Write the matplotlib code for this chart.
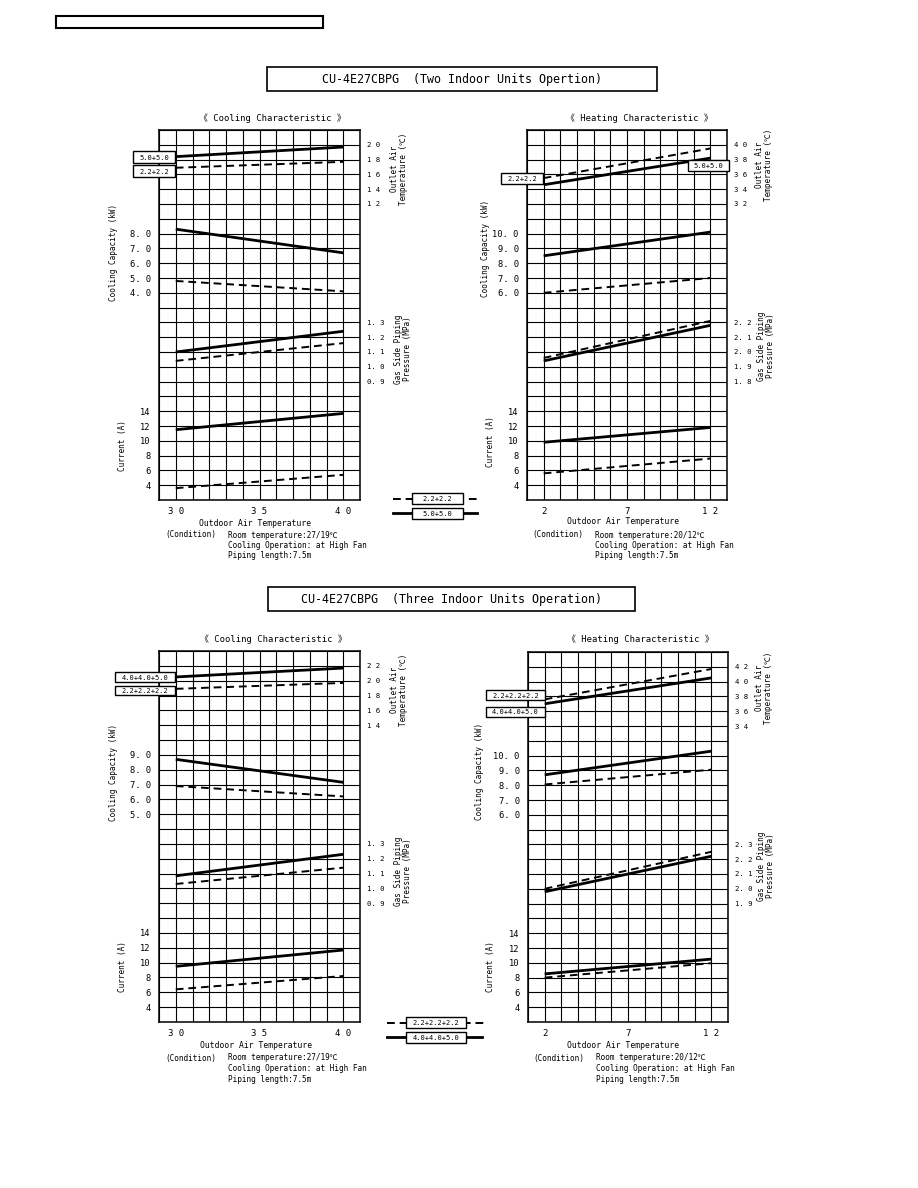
import matplotlib
matplotlib.use('Agg')
import matplotlib.pyplot as plt
from matplotlib.patches import Rectangle

plt.rcParams['font.family'] = ['DejaVu Sans Mono', 'Noto Sans CJK JP']

# ---- data ----
cool_x = [30, 40]
heat_x = [2, 12]

# two indoor units: hi = 5.0+5.0 (solid), lo = 2.2+2.2 (dashed)
two_cool_outlet_hi = [18.4, 19.7]
two_cool_outlet_lo = [16.9, 17.7]
two_cool_cap_hi = [8.3, 6.7]
two_cool_cap_lo = [4.8, 4.1]
two_cool_gas_hi = [1.10, 1.24]
two_cool_gas_lo = [1.04, 1.16]
two_cool_cur_hi = [11.5, 13.7]
two_cool_cur_lo = [3.6, 5.4]

two_heat_outlet_hi = [34.6, 38.2]
two_heat_outlet_lo = [35.5, 39.5]
two_heat_cap_hi = [8.5, 10.1]
two_heat_cap_lo = [6.0, 7.0]
two_heat_gas_hi = [1.94, 2.18]
two_heat_gas_lo = [1.96, 2.21]
two_heat_cur_hi = [9.8, 11.8]
two_heat_cur_lo = [5.6, 7.6]

# three indoor units: hi = 4.0+4.0+5.0 (solid), lo = 2.2+2.2+2.2 (dashed)
three_cool_outlet_hi = [20.5, 21.7]
three_cool_outlet_lo = [18.9, 19.7]
three_cool_cap_hi = [8.7, 7.15]
three_cool_cap_lo = [6.9, 6.2]
three_cool_gas_hi = [1.085, 1.23]
three_cool_gas_lo = [1.03, 1.14]
three_cool_cur_hi = [9.5, 11.7]
three_cool_cur_lo = [6.4, 8.2]

three_heat_outlet_hi = [37.0, 40.5]
three_heat_outlet_lo = [37.6, 41.7]
three_heat_cap_hi = [8.7, 10.3]
three_heat_cap_lo = [8.05, 9.05]
three_heat_gas_hi = [1.98, 2.22]
three_heat_gas_lo = [2.0, 2.25]
three_heat_cur_hi = [8.5, 10.5]
three_heat_cur_lo = [8.0, 9.95]

# tick values
cool_xticks = [30, 35, 40]
heat_xticks = [2, 7, 12]
current_ticks = [14, 12, 10, 8, 6, 4]
tl_outlet_ticks = [20, 18, 16, 14, 12]
tr_outlet_ticks = [40, 38, 36, 34, 32]
bl_outlet_ticks = [22, 20, 18, 16, 14]
br_outlet_ticks = [42, 40, 38, 36, 34]
tl_cap_ticks = [8.0, 7.0, 6.0, 5.0, 4.0]
tr_cap_ticks = [10.0, 9.0, 8.0, 7.0, 6.0]
bl_cap_ticks = [9.0, 8.0, 7.0, 6.0, 5.0]
br_cap_ticks = [10.0, 9.0, 8.0, 7.0, 6.0]
tl_gas_ticks = [1.3, 1.2, 1.1, 1.0, 0.9]
tr_gas_ticks = [2.2, 2.1, 2.0, 1.9, 1.8]
bl_gas_ticks = [1.3, 1.2, 1.1, 1.0, 0.9]
br_gas_ticks = [2.3, 2.2, 2.1, 2.0, 1.9]

W, H = 918, 1188
ROWS = 25
fig = plt.figure(figsize=(W / 100, H / 100), dpi=100)
fig.patch.set_facecolor('white')


def px_axes(x0, y0, x1, y1):
    return fig.add_axes([x0 / W, 1 - y1 / H, (x1 - x0) / W, (y1 - y0) / H])


def spaced(v):
    return ' '.join(str(int(v)))


def dotted(v):
    return ('%.1f' % v).replace('.', '. ')


def scale(base, ticks, top_line, step, fmt, side):
    tw = base.twinx()
    top = ticks[0]
    tw.set_ylim(top - step * (ROWS - top_line), top + step * top_line)
    tw.set_yticks(ticks)
    size = 6.3 if side == 'left' else 5.2
    tw.set_yticklabels([fmt(v) for v in ticks], fontsize=size)
    if side == 'left':
        tw.yaxis.tick_left()
        tw.tick_params(length=0, pad=6)
    else:
        tw.tick_params(length=0, pad=5)
    for s in tw.spines.values():
        s.set_visible(False)
    return tw


def draw(tw, x, hi, lo):
    tw.plot(x, hi, color='black', lw=2.0, solid_capstyle='butt')
    tw.plot(x, lo, color='black', lw=1.4, ls=(0, (4, 2.5)))


def panel(box, xlo, xhi, xticks, x, outlet, cap, gas, cur):
    ax = px_axes(*box)
    ax.set_xlim(xlo, xhi)
    ax.set_ylim(0, ROWS)
    ax.set_xticks(range(xlo, xhi + 1))
    ax.set_xticklabels([spaced(v) if v in xticks else '' for v in range(xlo, xhi + 1)],
                       fontsize=6.5)
    ax.set_yticks(range(ROWS + 1))
    ax.set_yticklabels([])
    ax.grid(True, color='black', lw=0.8)
    ax.tick_params(length=0, pad=5)
    for s in ax.spines.values():
        s.set_linewidth(1.1)
    # outlet air temp (right), capacity (left), gas pressure (right), current (left)
    tw = scale(ax, outlet[0], 1, 2, spaced, 'right')
    draw(tw, x, outlet[1], outlet[2])
    tw = scale(ax, cap[0], 7, 1.0, dotted, 'left')
    draw(tw, x, cap[1], cap[2])
    tw = scale(ax, gas[0], 13, 0.1, dotted, 'right')
    draw(tw, x, gas[1], gas[2])
    tw = scale(ax, current_ticks, 19, 2, str, 'left')
    draw(tw, x, cur[0], cur[1])
    return ax


panel((159, 130, 360, 500), 29, 41, cool_xticks, cool_x,
      (tl_outlet_ticks, two_cool_outlet_hi, two_cool_outlet_lo),
      (tl_cap_ticks, two_cool_cap_hi, two_cool_cap_lo),
      (tl_gas_ticks, two_cool_gas_hi, two_cool_gas_lo),
      (two_cool_cur_hi, two_cool_cur_lo))
panel((527, 130, 727, 500), 1, 13, heat_xticks, heat_x,
      (tr_outlet_ticks, two_heat_outlet_hi, two_heat_outlet_lo),
      (tr_cap_ticks, two_heat_cap_hi, two_heat_cap_lo),
      (tr_gas_ticks, two_heat_gas_hi, two_heat_gas_lo),
      (two_heat_cur_hi, two_heat_cur_lo))
panel((159, 651, 360, 1022), 29, 41, cool_xticks, cool_x,
      (bl_outlet_ticks, three_cool_outlet_hi, three_cool_outlet_lo),
      (bl_cap_ticks, three_cool_cap_hi, three_cool_cap_lo),
      (bl_gas_ticks, three_cool_gas_hi, three_cool_gas_lo),
      (three_cool_cur_hi, three_cool_cur_lo))
panel((528, 652, 728, 1022), 1, 13, heat_xticks, heat_x,
      (br_outlet_ticks, three_heat_outlet_hi, three_heat_outlet_lo),
      (br_cap_ticks, three_heat_cap_hi, three_heat_cap_lo),
      (br_gas_ticks, three_heat_gas_hi, three_heat_gas_lo),
      (three_heat_cur_hi, three_heat_cur_lo))

# ---- overlay in pixel coordinates for frames and captions ----
ov = fig.add_axes([0, 0, 1, 1])
ov.set_xlim(0, W)
ov.set_ylim(H, 0)
ov.axis('off')


def frame(x0, y0, x1, y1, lw=1.0):
    ov.add_patch(Rectangle((x0, y0), x1 - x0, y1 - y0, fc='white', ec='black', lw=lw, zorder=3))


def tag(x0, y0, x1, y1, s):
    frame(x0, y0, x1, y1)
    ov.text((x0 + x1) / 2, (y0 + y1) / 2 + 0.5, s, fontsize=5, ha='center', va='center', zorder=4)


frame(56, 16, 323, 28, lw=1.5)
frame(267, 67, 657, 91, lw=1.2)
ov.text(462, 79.5, 'CU-4E27CBPG  (Two Indoor Units Opertion)', fontsize=8.4, ha='center', va='center', zorder=4)
frame(268, 587, 635, 611, lw=1.2)
ov.text(451.5, 599.5, 'CU-4E27CBPG  (Three Indoor Units Operation)', fontsize=8.4, ha='center', va='center', zorder=4)

for cx, cy, s in [(272, 118, '《 Cooling Characteristic 》'), (639, 118, '《 Heating Characteristic 》'),
                  (273, 639, '《 Cooling Characteristic 》'), (640, 639, '《 Heating Characteristic 》')]:
    ov.text(cx, cy, s, fontsize=6.4, ha='center', va='center')

# series tags beside the lines
tag(133, 151, 175, 163, '5.0+5.0')
tag(133, 165, 175, 177, '2.2+2.2')
tag(501, 173, 543, 184, '2.2+2.2')
tag(688, 160, 729, 171, '5.0+5.0')
tag(115, 672, 175, 682, '4.0+4.0+5.0')
tag(115, 686, 175, 695, '2.2+2.2+2.2')
tag(486, 690, 545, 700, '2.2+2.2+2.2')
tag(486, 707, 545, 717, '4.0+4.0+5.0')

# key between the panels
for y0, x_end, lo_txt, hi_txt in [(493, 480, '2.2+2.2', '5.0+5.0'), (1017, 485, '2.2+2.2+2.2', '4.0+4.0+5.0')]:
    x_start = 393 if y0 < 600 else 387
    bx0 = 412 if y0 < 600 else 406
    bx1 = 463 if y0 < 600 else 466
    ov.plot([x_start, x_end], [y0 + 5.5, y0 + 5.5], color='black', lw=1.4, ls=(0, (4, 2.5)), zorder=2)
    ov.plot([x_start, x_end - 3], [y0 + 20, y0 + 20], color='black', lw=2.0, zorder=2)
    tag(bx0, y0, bx1, y0 + 11, lo_txt)
    tag(bx0, y0 + 14.5, bx1, y0 + 25.5, hi_txt)

# axis captions
for x, y, s in [(113, 252, 'Cooling Capacity (kW)'), (485, 248, 'Cooling Capacity (kW)'),
                (113, 772, 'Cooling Capacity (kW)'), (480, 771, 'Cooling Capacity (kW)'),
                (123, 446, 'Current (A)'), (490, 442, 'Current (A)'),
                (123, 967, 'Current (A)'), (490, 967, 'Current (A)')]:
    ov.text(x, y, s, fontsize=5.5, rotation=90, ha='center', va='center')

for x, y, s in [(399, 169, 'Outlet Air\nTemperature (℃)'), (764, 165, 'Outlet Air\nTemperature (℃)'),
                (399, 690, 'Outlet Air\nTemperature (℃)'), (764, 688, 'Outlet Air\nTemperature (℃)'),
                (403, 349, 'Gas Side Piping\nPressure (MPa)'), (766, 346, 'Gas Side Piping\nPressure (MPa)'),
                (403, 871, 'Gas Side Piping\nPressure (MPa)'), (766, 866, 'Gas Side Piping\nPressure (MPa)')]:
    ov.text(x, y, s, fontsize=5.5, rotation=90, ha='center', va='center',
            multialignment='center', linespacing=1.0)

for cx, cy in [(255, 523), (623, 522), (256, 1045), (623, 1045)]:
    ov.text(cx, cy, 'Outdoor Air Temperature', fontsize=5.8, ha='center', va='center')

for x0, y0, room in [(165, 535, '27/19℃'), (532, 535, '20/12℃'),
                     (165, 1058, '27/19℃'), (533, 1058, '20/12℃')]:
    ov.text(x0, y0, '(Condition)', fontsize=5.6, ha='left', va='center')
    ov.text(x0 + 63, y0, 'Room temperature:' + room, fontsize=5.6, ha='left', va='center')
    ov.text(x0 + 63, y0 + 10.5, 'Cooling Operation: at High Fan', fontsize=5.6, ha='left', va='center')
    ov.text(x0 + 63, y0 + 21, 'Piping length:7.5m', fontsize=5.6, ha='left', va='center')

fig.savefig('out.png', dpi=100, facecolor='white')
